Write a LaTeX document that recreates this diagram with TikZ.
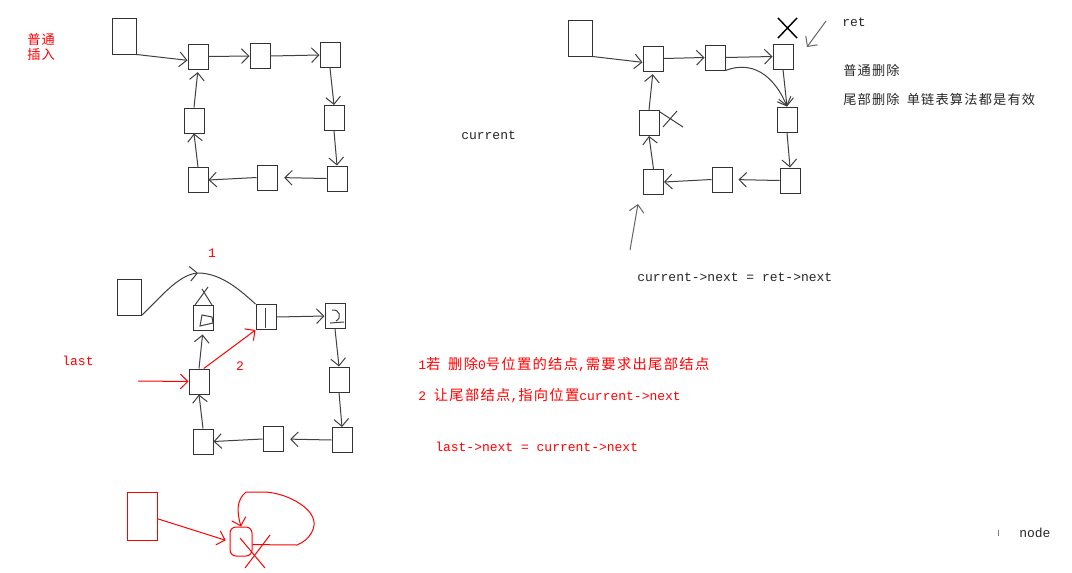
\documentclass[tikz,border=0pt]{standalone}
\usepackage{fontspec}
\setmainfont{Liberation Mono}
\newfontfamily\cjk{Noto Sans CJK SC}[Scale=1.1,LetterSpace=9]
\usetikzlibrary{arrows.meta}
\tikzset{
  box/.style={draw=black!80, line width=0.75pt, minimum width=15pt, minimum height=18.75pt, inner sep=0pt},
  bigbox/.style={box, minimum width=18pt, minimum height=27pt},
  arr/.style={draw=black!75, line width=0.75pt, -{Straight Barb[length=5.5pt,width=11pt]}},
  rarr/.style={arr, draw=red},
  ln/.style={draw=black!75, line width=0.75pt},
  txt/.style={inner sep=0pt, anchor=west, text=black!85, font=\fontsize{9.75pt}{11pt}\selectfont},
  ctxt/.style={txt, font=\fontsize{9pt}{11pt}\selectfont},
  rtxt/.style={txt, text=red},
}
\begin{document}
\begin{tikzpicture}[x=0.75pt,y=-0.75pt]
\fill[white] (0,0) rectangle (1072,572);
\useasboundingbox (0,0) rectangle (1072,572);

% ---------- top-left: insertion ----------
\node[txt, text=red, align=left, font=\cjk\fontsize{9pt}{11.25pt}\selectfont] (ins) at (27,46.5) {普通\\插入};
\node[bigbox] (a0) at (124,36) {};
\node[box] (a1) at (198,56.5) {};
\node[box] (a2) at (260,56) {};
\node[box] (a3) at (330,55) {};
\node[box] (a4) at (334,118) {};
\node[box] (a5) at (337,178.5) {};
\node[box] (a6) at (267,177.5) {};
\node[box] (a7) at (198,180) {};
\node[box] (a8) at (194,120.5) {};
\draw[arr] (a0.south east) -- (a1.200);
\draw[arr] (a1.east) -- (a2.west);
\draw[arr] (a2.east) -- (a3.west);
\draw[arr] (a3.south) -- (a4.north);
\draw[arr] (a4.south) -- (a5.north);
\draw[arr, shorten >=5pt] (a5.west) -- (a6.east);
\draw[arr] (a6.west) -- (a7.east);
\draw[arr] (a7.north) -- (a8.south);
\draw[arr, shorten >=2pt] (a8.north) -- (a1.south);

% ---------- middle label ----------
\node[txt] (cur) at (461,135) {current};

% ---------- top-right: deletion ----------
\node[bigbox] (b0) at (580,38) {};
\node[box] (b1) at (653,58.5) {};
\node[box] (b2) at (715,57.5) {};
\node[box] (b3) at (783,56.5) {};
\node[box] (b4) at (787,119.5) {};
\node[box] (b5) at (790,180.5) {};
\node[box] (b6) at (722,179.5) {};
\node[box] (b7) at (653.5,182) {};
\node[box] (b8) at (649,123) {};
\draw[arr] (b0.south east) -- (b1.200);
\draw[arr] (b1.east) -- (b2.west);
\draw[arr] (b2.east) -- (b3.west);
\draw[arr] (b3.south) -- (b4.north);
\draw[arr] (b4.south) -- (b5.north);
\draw[arr, shorten >=4.5pt] (b5.west) -- (b6.east);
\draw[arr] (b6.west) -- (b7.east);
\draw[arr] (b7.north) -- (b8.south);
\draw[arr, shorten >=2pt] (b8.north) -- (b1.south);
\draw[arr] (b2.south east) .. controls (758,58) and (778,84) .. (b4.north);
\draw[draw=black, line width=1.1pt] (778,18) -- (797,38) (797,18) -- (778,38);
\draw[ln] (660,112) -- (683,127) (663,127) -- (677,111);
\coordinate (retA) at (826,21);
\coordinate (retB) at (807,47);
\draw[arr, draw=black!60] (retA) -- (retB);
\coordinate (curA) at (630,250);
\coordinate (curB) at (638,204);
\draw[arr, draw=black!60] (curA) -- (curB);
\node[txt] (ret) at (842,22) {ret};
\node[ctxt] (del1) at (843,70) {\cjk 普通删除};
\node[ctxt] (del2) at (843,99) {{\cjk 尾部删除} {\cjk 单链表算法都是有效}};
\node[txt] (cn) at (637,277) {current->next = ret->next};

% ---------- bottom-left: delete head ----------
\node[bigbox] (c0) at (129,297) {};
\node[box] (c1) at (203,317.5) {};
\node[box] (c2) at (266,317) {};
\node[box] (c3) at (335,316) {};
\node[box] (c4) at (339,379.5) {};
\node[box] (c5) at (342,440) {};
\node[box] (c6) at (273,439) {};
\node[box] (c7) at (203,441.5) {};
\node[box] (c8) at (199,381.5) {};
\coordinate (peak) at (198,273);
\draw[arr] (c0.south east) .. controls (160,298) and (178,275) .. (peak);
\draw[ln] (peak) .. controls (222,273) and (242,292) .. (c2.north west);
\draw[ln] (195,305) -- (208,287) (202,289) -- (212,305);
\draw[ln] (202,315) -- (212,317) -- (213,323) -- (200,326) -- cycle;
\draw[ln] (265,308) -- (265,328);
\draw[ln] (332,310) .. controls (340,309) and (342,318) .. (336,321);
\draw[ln] (330,323) -- (344,322);
\draw[arr] (c2.east) -- (c3.west);
\draw[arr] (c3.south) -- (c4.north);
\draw[arr] (c4.south) -- (c5.north);
\draw[arr, shorten >=5pt] (c5.west) -- (c6.east);
\draw[arr] (c6.west) -- (c7.east);
\draw[arr] (c7.north) -- (c8.south);
\draw[arr, shorten >=3pt] (c8.north) -- (c1.south);
\draw[rarr] (c8.70) -- (c2.south west);
\coordinate (lastP) at (138,381);
\draw[rarr] (lastP) -- (c8.west);
\node[rtxt, anchor=center] (n1) at (212,253) {1};
\node[rtxt, anchor=center] (n2) at (240,366) {2};
\node[rtxt, anchor=center] (lastl) at (78,361) {last};

% ---------- red notes ----------
\node[rtxt] (t1) at (418,365) {1{\cjk 若} {\cjk 删除}0{\cjk 号位置的结点},{\cjk 需要求出尾部结点}};
\node[rtxt] (t2) at (418,396) {2 {\cjk 让尾部结点},{\cjk 指向位置}current->next};
\node[rtxt] (t3) at (435,447) {last->next = current->next};

% ---------- bottom: single node ----------
\node[draw=red, line width=0.75pt, minimum width=22.5pt, minimum height=36pt, inner sep=0pt] (rb) at (142,516) {};
\node[draw=red, line width=0.75pt, rounded corners=4.5pt, minimum width=16.5pt, minimum height=21.75pt, inner sep=0pt] (rn) at (241,541.5) {};
\draw[rarr, shorten >=3pt] (rb.-10) -- (rn.west);
\draw[rarr] (rn.-15) -- (297,545) .. controls (310,540) and (317,527) .. (313,518)
  .. controls (308,505) and (285,493) .. (265,492) -- (246,492)
  .. controls (236,500) and (237,513) .. (rn.north);
\draw[red, line width=0.75pt] (240,538) -- (265,568) (270,535) -- (245,568);

% ---------- legend ----------
\node[txt] (nd) at (1019,533) {node};
\draw[black!50, line width=0.75pt] (998,530) -- (998,536);
\end{tikzpicture}
\end{document}
